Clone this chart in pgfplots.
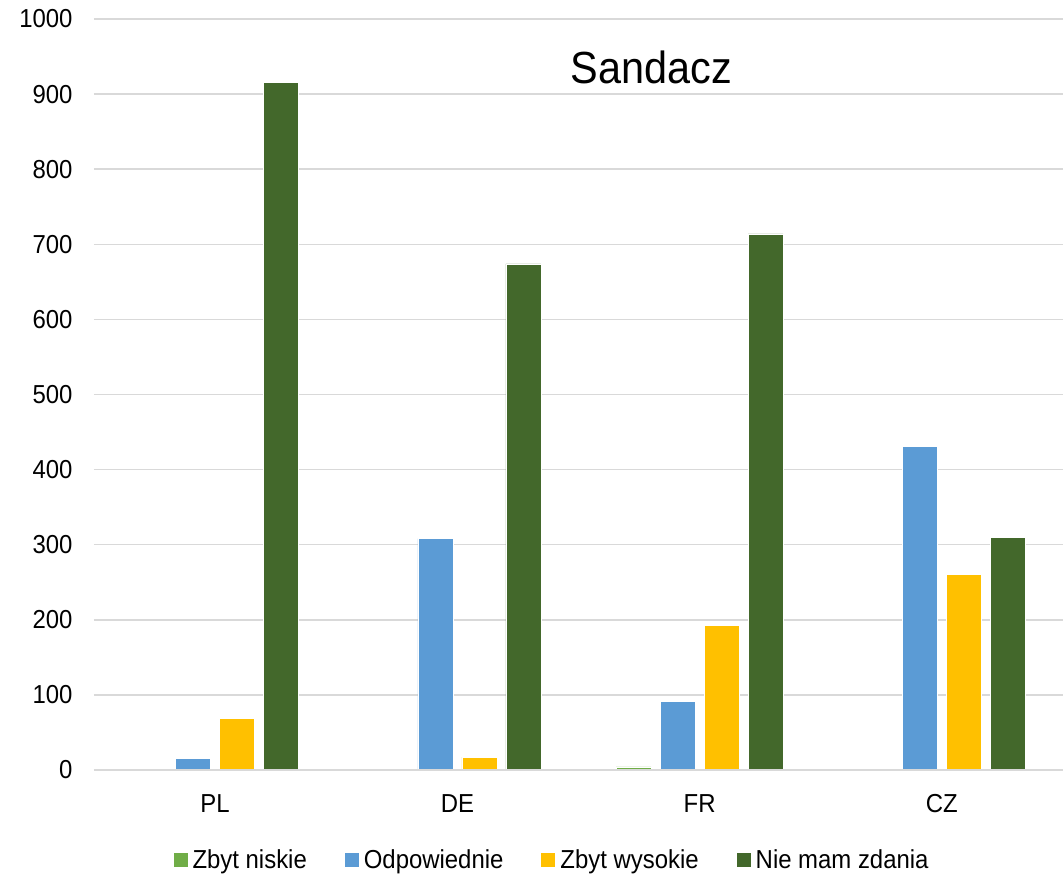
\documentclass[border=0pt]{standalone}
\usepackage{fontspec}
\setmainfont[FakeStretch=0.92]{Liberation Sans}
\usepackage{pgfplots}
\pgfplotsset{compat=1.18}
\definecolor{cLG}{HTML}{70AD47}
\definecolor{cBL}{HTML}{5B9BD5}
\definecolor{cYL}{HTML}{FFC000}
\definecolor{cDG}{HTML}{43682B}
\definecolor{cGrid}{HTML}{D9D9D9}
\begin{document}
\begin{tikzpicture}
\begin{axis}[
  scale only axis,
  width=969pt, height=751pt,
  xmin=-0.5, xmax=3.5,
  ymin=0, ymax=1000,
  ytick={0,100,...,1000},
  xtick={0,1,2,3},
  xticklabels={PL,DE,FR,CZ},
  axis line style={draw=none},
  major tick length=0pt,
  ymajorgrids,
  grid style={cGrid, line width=1.5pt},
  ybar=9pt,
  bar width=35pt,
  /pgf/number format/assume math mode=true,
  /pgf/number format/1000 sep={},
  ticklabel style={font=\fontsize{26}{30}\selectfont},
  yticklabel style={xshift=-18pt},
  xticklabel style={yshift=-21pt},
  legend style={
    at={(axis description cs:0.4727,-0.12)}, anchor=center,
    draw=none, legend columns=-1,
    font=\fontsize{26}{30}\selectfont,
    /tikz/every odd column/.append style={column sep=3pt},
    /tikz/every even column/.append style={column sep=36pt},
  },
  legend image code/.code={\fill[#1,draw=none] (0pt,-7pt) rectangle (14pt,7pt);},
  clip=false,
]
\addplot[fill=cLG, draw=white, line width=0.5pt] coordinates {(0,0) (1,1) (2,4) (3,0)};
\addplot[fill=cBL, draw=white, line width=0.5pt] coordinates {(0,15) (1,308) (2,91) (3,431)};
\addplot[fill=cYL, draw=white, line width=0.5pt] coordinates {(0,69) (1,17) (2,193) (3,260)};
\addplot[fill=cDG, draw=white, line width=0.5pt] coordinates {(0,916) (1,674) (2,714) (3,310)};
\legend{Zbyt niskie, Odpowiednie, Zbyt wysokie, Nie mam zdania}
\draw[cGrid, line width=1.5pt] (rel axis cs:0,0) -- (rel axis cs:1,0);
\node[font=\fontsize{45}{50}\selectfont] at (rel axis cs:0.575,0.936) {Sandacz};
\end{axis}
\pgfresetboundingbox
\path (current axis.south west) ++(-94pt,-107pt) coordinate (bbA);
\path (current axis.north east) ++(1pt,19pt) coordinate (bbB);
\path[use as bounding box] (bbA) rectangle (bbB);
\end{tikzpicture}
\end{document}
